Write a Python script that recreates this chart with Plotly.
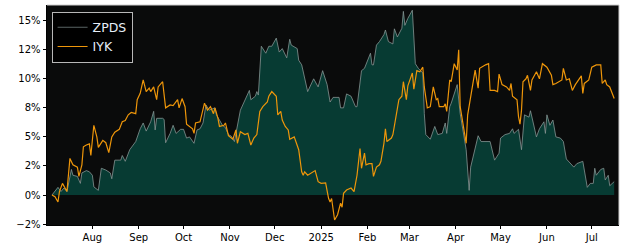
import plotly.graph_objects as go

# ---------------- data ----------------
zpds_dates = [
    "2024-07-05","2024-07-09","2024-07-11","2024-07-13","2024-07-15","2024-07-18","2024-07-19","2024-07-22",
    "2024-07-24","2024-07-25","2024-07-28","2024-07-30","2024-08-01","2024-08-02","2024-08-05","2024-08-07",
    "2024-08-10","2024-08-13","2024-08-14","2024-08-16","2024-08-20","2024-08-21","2024-08-23","2024-08-26",
    "2024-08-30","2024-09-02","2024-09-04","2024-09-06","2024-09-09","2024-09-11","2024-09-12","2024-09-13",
    "2024-09-17","2024-09-18","2024-09-19","2024-09-22","2024-09-24","2024-09-26","2024-09-29","2024-10-01",
    "2024-10-03","2024-10-05","2024-10-08","2024-10-10","2024-10-12","2024-10-14","2024-10-16","2024-10-18",
    "2024-10-20","2024-10-22","2024-10-23","2024-10-25","2024-10-27","2024-10-29","2024-10-31","2024-11-02",
    "2024-11-04","2024-11-08","2024-11-11","2024-11-14","2024-11-15","2024-11-18","2024-11-19","2024-11-20",
    "2024-11-22","2024-11-25","2024-11-27","2024-11-29","2024-12-02","2024-12-04","2024-12-06","2024-12-09",
    "2024-12-11","2024-12-12","2024-12-16","2024-12-17","2024-12-19","2024-12-21","2024-12-23","2024-12-27",
    "2024-12-30","2025-01-02","2025-01-05","2025-01-07","2025-01-09","2025-01-13","2025-01-14","2025-01-16",
    "2025-01-18","2025-01-21","2025-01-24","2025-01-25","2025-01-28","2025-01-30","2025-02-03","2025-02-04",
    "2025-02-05","2025-02-07","2025-02-09","2025-02-12","2025-02-13","2025-02-15","2025-02-18","2025-02-19",
    "2025-02-21","2025-02-24","2025-02-25","2025-02-26","2025-02-28","2025-03-03","2025-03-04","2025-03-05",
    "2025-03-07","2025-03-08","2025-03-10","2025-03-11","2025-03-12","2025-03-15","2025-03-18","2025-03-20",
    "2025-03-23","2025-03-25","2025-03-26","2025-03-28","2025-03-29","2025-04-02","2025-04-04","2025-04-08",
    "2025-04-10","2025-04-11","2025-04-13","2025-04-16","2025-04-18","2025-04-21","2025-04-24","2025-04-27",
    "2025-04-30","2025-05-01","2025-05-04","2025-05-07","2025-05-09","2025-05-10","2025-05-13","2025-05-15",
    "2025-05-17","2025-05-20","2025-05-21","2025-05-25","2025-05-27","2025-05-30","2025-05-31","2025-06-01",
    "2025-06-03","2025-06-05","2025-06-07","2025-06-10","2025-06-12","2025-06-14","2025-06-17","2025-06-19",
    "2025-06-21","2025-06-25","2025-06-28","2025-06-30","2025-07-02","2025-07-03","2025-07-04","2025-07-07",
    "2025-07-09","2025-07-10","2025-07-12","2025-07-13","2025-07-16",
]
zpds_values = [
    0, 0.66, 0.3, 0.6, 0.3, 2.2, 1.7, 1.6,
    1.0, 1.9, 2.1, 2.0, 1.7, 0.7, 0.4, 2.3,
    2.15, 1.9, 1.4, 3.0, 3.0, 3.4, 2.9, 3.9,
    4.6, 5.7, 6.2, 5.5, 6.3, 7.2, 5.6, 6.6,
    6.6, 6.5, 4.5, 5.3, 6.0, 5.3, 5.65, 5.65,
    4.9, 5.0, 4.45, 5.6, 5.7, 6.2, 7.75, 7.3,
    7.4, 7.5, 6.9, 6.45, 6.0, 5.8, 5.2, 5.05,
    4.6, 7.3, 8.2, 9.0, 8.2, 8.5, 8.9, 8.6,
    12.8, 12.2, 12.8, 12.8, 13.5, 12.3, 12.6, 11.8,
    13.4, 12.9, 12.6, 11.6, 11.2, 10.0, 8.9, 10.0,
    9.3, 10.7, 9.5, 8.0, 8.4, 8.4, 7.5, 7.5,
    8.7, 8.5, 7.6, 7.6, 10.7, 10.9, 12.2, 11.2,
    11.2, 12.9, 13.2, 13.8, 14.2, 13.2, 13.0, 14.3,
    13.6, 14.35, 15.8, 14.6, 15.2, 15.9, 13.0, 11.3,
    10.9, 10.75, 10.5, 7.0, 5.2, 4.8, 5.9, 5.2,
    5.3, 6.2, 5.3, 7.6, 7.9, 9.5, 7.0, 3.9,
    0.4, 2.4, 3.4, 5.1, 4.6, 4.6, 4.6, 3.0,
    3.6, 4.9, 5.2, 5.3, 5.7, 5.3, 5.65, 3.9,
    6.9, 6.7, 7.25, 5.0, 5.7, 6.3, 5.3, 6.9,
    6.0, 6.45, 5.0, 4.9, 4.6, 3.1, 2.7, 2.4,
    2.7, 2.9, 0.66, 1.0, 1.0, 2.3, 1.7, 2.2,
    2.3, 1.3, 1.7, 0.8, 1.15,
]

iyk_dates = [
    "2024-07-05","2024-07-07","2024-07-09","2024-07-10","2024-07-12","2024-07-14","2024-07-15","2024-07-17",
    "2024-07-19","2024-07-22","2024-07-23","2024-07-25","2024-07-26","2024-07-28","2024-07-30","2024-07-31",
    "2024-08-02","2024-08-04","2024-08-05","2024-08-08","2024-08-10","2024-08-12","2024-08-14","2024-08-16",
    "2024-08-19","2024-08-21","2024-08-23","2024-08-25","2024-08-27","2024-08-30","2024-08-31","2024-09-02",
    "2024-09-04","2024-09-06","2024-09-08","2024-09-09","2024-09-11","2024-09-13","2024-09-14","2024-09-17",
    "2024-09-18","2024-09-19","2024-09-22","2024-09-24","2024-09-27","2024-09-28","2024-09-30","2024-10-02",
    "2024-10-03","2024-10-07","2024-10-08","2024-10-09","2024-10-12","2024-10-13","2024-10-14","2024-10-15",
    "2024-10-17","2024-10-19","2024-10-21","2024-10-22","2024-10-24","2024-10-25","2024-10-28","2024-10-29",
    "2024-10-31","2024-11-02","2024-11-03","2024-11-05","2024-11-06","2024-11-08","2024-11-11","2024-11-13",
    "2024-11-15","2024-11-17","2024-11-19","2024-11-21","2024-11-23","2024-11-26","2024-11-27","2024-11-29",
    "2024-12-02","2024-12-03","2024-12-05","2024-12-06","2024-12-08","2024-12-10","2024-12-11","2024-12-14",
    "2024-12-17","2024-12-19","2024-12-20","2024-12-21","2024-12-23","2024-12-28","2024-12-30","2025-01-01",
    "2025-01-04","2025-01-06","2025-01-07","2025-01-08","2025-01-10","2025-01-12","2025-01-14","2025-01-15",
    "2025-01-16","2025-01-18","2025-01-21","2025-01-23","2025-01-25","2025-01-27","2025-01-28","2025-01-30",
    "2025-01-31","2025-02-02","2025-02-04","2025-02-05","2025-02-07","2025-02-09","2025-02-10","2025-02-12",
    "2025-02-13","2025-02-14","2025-02-17","2025-02-18","2025-02-20","2025-02-22","2025-02-24","2025-02-25",
    "2025-02-27","2025-02-28","2025-03-03","2025-03-04","2025-03-06","2025-03-08","2025-03-10","2025-03-11",
    "2025-03-13","2025-03-15","2025-03-17","2025-03-19","2025-03-20","2025-03-21","2025-03-24","2025-03-25",
    "2025-03-26","2025-03-28","2025-03-29","2025-03-31","2025-04-02","2025-04-03","2025-04-04","2025-04-06",
    "2025-04-08","2025-04-09","2025-04-10","2025-04-12","2025-04-14","2025-04-16","2025-04-17","2025-04-21",
    "2025-04-23","2025-04-24","2025-04-27","2025-04-29","2025-04-30","2025-05-02","2025-05-05","2025-05-07",
    "2025-05-08","2025-05-09","2025-05-12","2025-05-13","2025-05-14","2025-05-15","2025-05-16","2025-05-18",
    "2025-05-19","2025-05-21","2025-05-22","2025-05-25","2025-05-27","2025-05-29","2025-06-01","2025-06-04",
    "2025-06-05","2025-06-07","2025-06-09","2025-06-11","2025-06-12","2025-06-14","2025-06-16","2025-06-18",
    "2025-06-20","2025-06-24","2025-06-25","2025-06-26","2025-06-29","2025-07-01","2025-07-04","2025-07-07",
    "2025-07-08","2025-07-10","2025-07-11","2025-07-13","2025-07-16",
]
iyk_values = [
    0, -0.15, -0.6, 0.3, 1.0, 0.6, 0.3, 3.15,
    2.6, 2.4, 1.6, 2.6, 4.15, 4.3, 4.4, 3.4,
    6.0, 5.0, 4.1, 4.7, 4.5, 3.65, 5.0, 5.4,
    5.65, 6.3, 6.4, 6.9, 7.1, 7.0, 8.2, 8.75,
    9.9, 8.9, 9.2, 8.9, 9.3, 8.2, 9.3, 9.75,
    8.5, 7.5, 7.75, 7.7, 8.2, 7.5, 8.3, 7.6,
    6.1, 5.7, 5.3, 6.2, 6.3, 6.9, 7.3, 7.9,
    7.3, 7.6, 7.0, 7.5, 6.6, 5.9, 6.0, 6.2,
    5.1, 4.85, 4.8, 5.6, 4.45, 5.45, 5.2, 5.3,
    4.3, 4.9, 5.2, 7.2, 7.6, 8.0, 8.5, 8.9,
    8.5, 6.9, 7.2, 6.45, 5.9, 5.6, 4.8, 5.0,
    3.9, 2.0, 1.7, 2.0, 1.7, 2.1, 1.15, 1.0,
    1.05, -0.3, -0.6, -0.3, -2.15, -1.7, -0.7, -1.05,
    0.15, 0.43, 0.6, 0.3, 1.7, 4.0, 2.3, 3.6,
    2.6, 2.7, 2.7, 1.6, 2.4, 2.6, 2.9, 4.45,
    5.7, 4.6, 4.9, 5.2, 6.6, 8.2, 8.5, 9.75,
    8.2, 9.4, 10.5, 9.1, 10.7, 10.6, 11.0, 9.3,
    7.5, 7.6, 9.3, 8.2, 8.3, 7.6, 7.6, 7.85,
    7.2, 9.9, 9.75, 11.3, 10.75, 12.5, 7.6, 6.2,
    4.45, 6.9, 7.6, 9.3, 10.75, 9.2, 10.9, 11.2,
    11.3, 9.0, 9.0, 8.9, 10.4, 9.5, 9.3, 9.0,
    9.6, 8.5, 8.2, 6.75, 6.1, 7.3, 9.75, 10.0,
    10.3, 9.0, 9.9, 10.6, 10.0, 11.3, 11.0, 10.3,
    9.5, 9.6, 9.75, 9.9, 10.9, 9.9, 10.0, 9.0,
    9.5, 10.25, 8.75, 9.6, 9.9, 11.0, 11.2, 11.2,
    9.6, 9.9, 9.5, 9.3, 8.3,
]

x_tick_dates = ["2024-08-01","2024-09-01","2024-10-01","2024-11-01","2024-12-01","2025-01-01",
                "2025-02-01","2025-03-01","2025-04-01","2025-05-01","2025-06-01","2025-07-01"]
x_tick_labels = ["Aug","Sep","Oct","Nov","Dec","2025","Feb","Mar","Apr","May","Jun","Jul"]
y_tick_values = [-2.5, 0, 2.5, 5, 7.5, 10, 12.5, 15]
y_tick_labels = ["\u22122%","0%","2%","5%","8%","10%","12%","15%"]

# ---------------- styles ----------------
BG = "#0a0b0b"
FILL = "rgb(7,59,51)"
GRAY = "rgb(135,150,148)"
ORANGE = "rgb(238,150,10)"
FONT = "DejaVu Sans"

fig = go.Figure()
fig.add_trace(go.Scatter(x=zpds_dates, y=zpds_values, mode="lines", fill="tozeroy",
                         fillcolor=FILL, line=dict(color=GRAY, width=0.8),
                         showlegend=False, name="ZPDS"))
fig.add_trace(go.Scatter(x=[None], y=[None], mode="lines", name="ZPDS",
                         line=dict(color="rgb(90,100,100)", width=1.2)))
fig.add_trace(go.Scatter(x=iyk_dates, y=iyk_values, mode="lines", name="IYK",
                         line=dict(color=ORANGE, width=1.2)))

fig.update_layout(
    width=625, height=250,
    margin=dict(l=47, r=6, t=5, b=25),
    paper_bgcolor="white", plot_bgcolor=BG,
    font=dict(family=FONT, size=10, color="black"),
    legend=dict(x=0.008, y=0.97, xanchor="left", yanchor="top",
                bgcolor="black", bordercolor="#b8b8b8", borderwidth=1,
                font=dict(color="#e6eef8", size=12.5, family=FONT),
                tracegroupgap=0, itemwidth=30),
    xaxis=dict(type="date", range=["2024-07-01 16:00", "2025-07-19 05:00"],
               tickmode="array", tickvals=x_tick_dates, ticktext=x_tick_labels,
               ticks="outside", ticklen=3.5, tickwidth=0.8, tickcolor="black",
               showgrid=False, zeroline=False, showline=True, linecolor="black", linewidth=0.8),
    yaxis=dict(range=[-2.58, 16.35], tickmode="array", tickvals=y_tick_values, ticktext=y_tick_labels,
               ticks="outside", ticklen=3.5, tickwidth=0.8, tickcolor="black",
               showgrid=False, zeroline=False, showline=True, linecolor="black", linewidth=0.8),
)
# light frame on top and right edges
fig.add_shape(type="line", xref="paper", yref="paper", x0=0, x1=1, y0=1, y1=1,
              line=dict(color="#cfcfcf", width=1))
fig.add_shape(type="line", xref="paper", yref="paper", x0=1, x1=1, y0=0, y1=1,
              line=dict(color="#cfcfcf", width=1))

fig.write_html("out.html")
